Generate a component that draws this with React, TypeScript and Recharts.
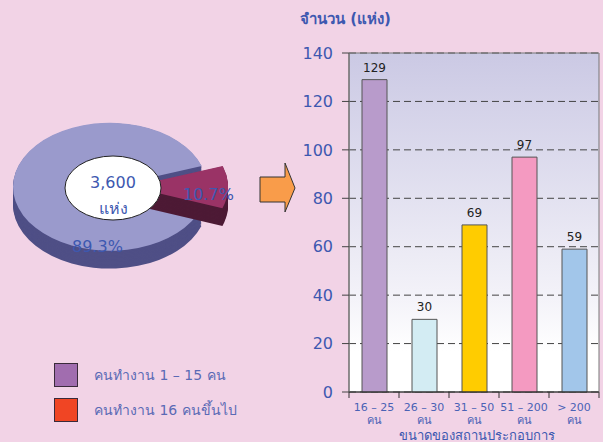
import { BarChart, Bar, XAxis, YAxis, CartesianGrid, ReferenceArea, LabelList, PieChart, Pie, Cell } from 'recharts';

// left: share of establishments by workforce
const pieNames = ['คนทำงาน 1 – 15 คน', 'คนทำงาน 16 คนขึ้นไป'];
const pieShares = [89.3, 10.7];
const pieLabels = ['89.3%', '10.7%'];
const legendColors = ['#a16daf', '#f04524'];
const totalCount = '3,600';
const totalUnit = 'แห่ง';

// right: establishments with 16+ workers by size
const sizeGroups = ['16 – 25', '26 – 30', '31 – 50', '51 – 200', '> 200'];
const counts = [129, 30, 69, 97, 59];
const barColors = ['#b89bcb', '#d3ecf3', '#ffcc00', '#f49ac1', '#a2c6ea'];
const yTicks = [0, 20, 40, 60, 80, 100, 120, 140];

const pieData = pieNames.map((name, i) => ({ name, value: pieShares[i] }));
const barData = sizeGroups.map((group, i) => ({ group, count: counts[i] }));

const FONT = "Tahoma, 'DejaVu Sans', sans-serif";
const BLUE = '#3d58b0';

// fake 3D pie: circle squashed vertically, side drawn as stacked darker layers
const SQUASH = 0.66;
const PIE_CX = 110;
const PIE_CY = 283;
const PIE_R = 97;
const DEPTH = 27;
const EXPLODE = 21;
const layerOffsets = Array.from({ length: 14 }, (_, i) => DEPTH - i * 2);

const topColors = ['#9a9acc', '#9a3366'];
const sideColors = ['#4f4f86', '#4d1a35'];

const BAND = 50;

function SizeTick(props: any) {
  const { x, y, payload, index } = props;
  const last = index === sizeGroups.length - 1;
  return (
    <g>
      <line x1={x - BAND / 2} x2={x - BAND / 2} y1={y} y2={y + 6} stroke="#333" />
      {last && <line x1={x + BAND / 2} x2={x + BAND / 2} y1={y} y2={y + 6} stroke="#333" />}
      <text x={x} y={y + 19} textAnchor="middle" fill="#4a62b5" fontSize={11} fontFamily={FONT}>
        {payload.value}
      </text>
      <text x={x} y={y + 32} textAnchor="middle" fill="#4a62b5" fontSize={11} fontFamily={FONT}>
        คน
      </text>
    </g>
  );
}

function pieLayer(key: string, slice: number, cx: number, cy: number, colors: string[]) {
  return (
    <Pie
      key={key}
      data={pieData}
      dataKey="value"
      cx={cx}
      cy={cy}
      outerRadius={PIE_R}
      startAngle={19}
      endAngle={379}
      stroke="none"
      isAnimationActive={false}
    >
      {pieData.map((_, i) => (
        <Cell key={i} fill={i === slice ? colors[i] : 'transparent'} />
      ))}
    </Pie>
  );
}

export default function App() {
  return (
    <div
      style={{
        position: 'relative',
        width: 603,
        height: 442,
        overflow: 'hidden',
        background: '#f2d3e6',
        fontFamily: FONT,
      }}
    >
      <style>{'body{margin:0}'}</style>

      <div style={{ position: 'absolute', left: 0, top: 0, transform: `scaleY(${SQUASH})`, transformOrigin: '0 0' }}>
        <PieChart width={260} height={440} margin={{ top: 0, right: 0, bottom: 0, left: 0 }}>
          {layerOffsets.map((d) => pieLayer('m' + d, 0, PIE_CX, PIE_CY + d, sideColors))}
          {pieLayer('mt', 0, PIE_CX, PIE_CY, topColors)}
          {layerOffsets.map((d) => pieLayer('s' + d, 1, PIE_CX + EXPLODE, PIE_CY + d, sideColors))}
          {pieLayer('st', 1, PIE_CX + EXPLODE, PIE_CY, topColors)}
        </PieChart>
      </div>

      <svg width={603} height={442} style={{ position: 'absolute', left: 0, top: 0 }}>
        <ellipse cx={113} cy={188} rx={48} ry={32} fill="#fff" stroke="#222" strokeWidth={1} />
        <polygon
          points="260,177 285,177 285,163 295,188 285,212 285,202 260,202"
          fill="#f99c4a"
          stroke="#333"
          strokeWidth={1}
        />
      </svg>

      <div style={{ position: 'absolute', left: 63, top: 170, width: 100, textAlign: 'center', color: BLUE, fontSize: 16, lineHeight: '26px' }}>
        <div>{totalCount}</div>
        <div>{totalUnit}</div>
      </div>
      <div style={{ position: 'absolute', left: 72, top: 237, color: BLUE, fontSize: 16 }}>{pieLabels[0]}</div>
      <div style={{ position: 'absolute', left: 183, top: 185, color: BLUE, fontSize: 16 }}>{pieLabels[1]}</div>

      {pieNames.map((name, i) => (
        <div key={name} style={{ position: 'absolute', left: 54, top: 363 + i * 35, display: 'flex', alignItems: 'center' }}>
          <div style={{ width: 22, height: 22, background: legendColors[i], border: '1.5px solid #3a2a3a' }} />
          <div style={{ marginLeft: 16, color: '#5a6ab5', fontSize: 14 }}>{name}</div>
        </div>
      ))}

      <div style={{ position: 'absolute', left: 300, top: 7, color: BLUE, fontSize: 15, fontWeight: 'bold' }}>
        จำนวน (แห่ง)
      </div>

      <div style={{ position: 'absolute', left: 290, top: 40 }}>
        <BarChart width={313} height={402} data={barData} margin={{ top: 13, right: 4, bottom: 0, left: 9 }}>
          <defs>
            <linearGradient id="plotBg" x1="0" y1="0" x2="0" y2="1">
              <stop offset="0%" stopColor="#cbc9e4" />
              <stop offset="70%" stopColor="#f2f1f8" />
              <stop offset="88%" stopColor="#ffffff" />
            </linearGradient>
          </defs>
          <CartesianGrid vertical={false} stroke="#444" strokeDasharray="7 4" fill="url(#plotBg)" />
          <ReferenceArea y1={0} y2={140} fill="none" stroke="#777" strokeWidth={1} />
          <XAxis
            dataKey="group"
            height={50}
            interval={0}
            tickSize={0}
            tickMargin={0}
            tickLine={false}
            axisLine={{ stroke: '#222' }}
            tick={<SizeTick />}
          />
          <YAxis
            type="number"
            domain={[0, 140]}
            ticks={yTicks}
            interval={0}
            width={50}
            tickSize={7}
            tickMargin={9}
            axisLine={{ stroke: '#666' }}
            tickLine={{ stroke: '#444' }}
            tick={{ fill: BLUE, fontSize: 16, fontFamily: FONT }}
          />
          <Bar dataKey="count" barSize={25} stroke="#555" strokeWidth={1} isAnimationActive={false}>
            {barData.map((_, i) => (
              <Cell key={i} fill={barColors[i]} />
            ))}
            <LabelList dataKey="count" position="top" offset={8} fill="#222" fontSize={12} fontFamily={FONT} />
          </Bar>
        </BarChart>
      </div>

      <div style={{ position: 'absolute', left: 350, top: 429, width: 254, textAlign: 'center', color: BLUE, fontSize: 13, lineHeight: '13px' }}>
        ขนาดของสถานประกอบการ
      </div>
    </div>
  );
}
